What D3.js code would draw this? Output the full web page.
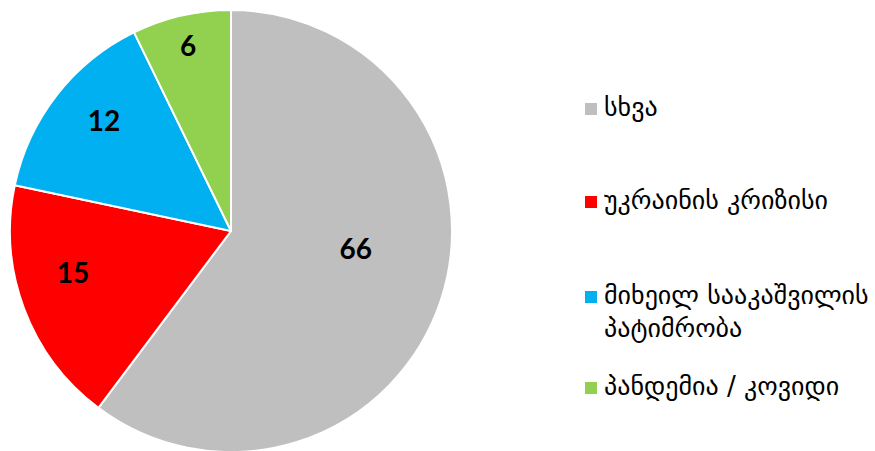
<!DOCTYPE html>
<html>
<head>
<meta charset="utf-8">
<script src="https://cdn.jsdelivr.net/npm/d3@7"></script>
<style>
	body { margin: 0; background: #fff; }
	svg { display: block; }
</style>
</head>
<body>
<svg id="chart" width="875" height="451"></svg>
<script>
// categories in drawing order (clockwise from 12 o'clock)
var categories = ["სხვა", "უკრაინის კრიზისი", "მიხეილ სააკაშვილის პატიმრობა", "პანდემია / კოვიდი"];
// slice sizes as drawn in the picture
var sliceValues = [50, 15, 12, 6];
// numbers printed on the slices
var labelValues = [66, 15, 12, 6];
// legend lines (long name wraps)
var legendLines = [["სხვა"], ["უკრაინის კრიზისი"], ["მიხეილ სააკაშვილის", "პატიმრობა"], ["პანდემია / კოვიდი"]];
var colors = ["#BFBFBF", "#FF0000", "#00B0F0", "#92D050"];

var svg = d3.select("#chart");

var cx = 231, cy = 231, radius = 221;

var pie = d3.pie()
	.sort(null)
	.value(function(d) { return d; });

var arcs = pie(sliceValues);

var arc = d3.arc()
	.innerRadius(0)
	.outerRadius(radius);

var g = svg.append("g")
	.attr("transform", "translate(" + cx + "," + cy + ")");

g.selectAll("path")
	.data(arcs)
	.enter()
	.append("path")
	.attr("d", arc)
	.attr("fill", function(d, i) { return colors[i]; })
	.attr("stroke", "#fff")
	.attr("stroke-width", 2)
	.attr("stroke-linejoin", "round");

// label distance from centre, as a share of the radius (best fit)
var labelFactor = [0.57, 0.74, 0.76, 0.86];
var angleShift = [-0.18, 0.1, 0.05, 0];

g.selectAll("text.val")
	.data(arcs)
	.enter()
	.append("text")
	.attr("class", "val")
	.attr("transform", function(d, i) {
		var a = (d.startAngle + d.endAngle) / 2 + angleShift[i];
		var r = radius * labelFactor[i];
		return "translate(" + (Math.sin(a) * r) + "," + (-Math.cos(a) * r) + ")";
	})
	.attr("text-anchor", "middle")
	.attr("dy", "0.36em")
	.style("font-family", "Lato, 'Open Sans', sans-serif")
	.style("font-weight", "bold")
	.style("font-size", "28px")
	.attr("fill", "#000")
	.text(function(d, i) { return labelValues[i]; });

// legend
var legendY = d3.scalePoint()
	.domain(categories)
	.range([109, 388]);

var legend = svg.append("g")
	.selectAll("g")
	.data(categories)
	.enter()
	.append("g")
	.attr("transform", function(d, i) {
		var y = legendY(d);
		if (i == 2) y = 297;
		return "translate(585," + y + ")";
	});

legend.append("rect")
	.attr("x", 0)
	.attr("y", -6)
	.attr("width", 12)
	.attr("height", 12)
	.attr("fill", function(d, i) { return colors[i]; });

legend.append("text")
	.attr("x", 20)
	.attr("y", -1)
	.style("font-family", "'DejaVu Sans', sans-serif")
	.style("font-size", "26px")
	.attr("fill", "#000")
	.selectAll("tspan")
	.data(function(d, i) { return legendLines[i]; })
	.enter()
	.append("tspan")
	.attr("x", 19)
	.attr("dy", function(d, j) { return j == 0 ? "0.32em" : "33px"; })
	.text(function(d) { return d; });
</script>
</body>
</html>
